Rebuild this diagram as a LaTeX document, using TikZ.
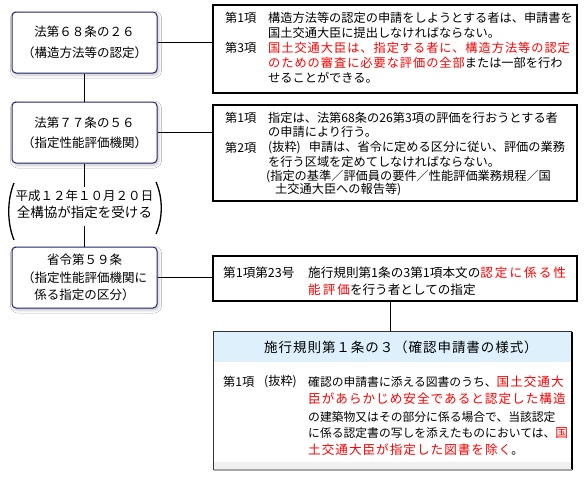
\documentclass[tikz,border=0pt]{standalone}
\usepackage{fontspec}
\setmainfont{Noto Sans CJK JP}
\usetikzlibrary{shadows.blur,calc}
\definecolor{navy}{RGB}{35,35,110}
\definecolor{hdrblue}{RGB}{222,240,252}
\newcommand\rd[1]{{\color{red}\addfontfeature{LetterSpace=8}#1}}
\newcommand\rdc[1]{{\color{red}\addfontfeature{LetterSpace=16}#1}}
\newcommand\rdb[1]{{\color{red}\fontsize{12.6}{14}\selectfont\addfontfeature{LetterSpace=8}#1}}
\begin{document}
\begin{tikzpicture}[x=1pt,y=-1pt,
  lbox/.style={draw=navy, line width=1pt, rounded corners=4pt, fill=white,
    minimum width=145pt, minimum height=61pt, inner sep=0pt, align=center,
    blur shadow={shadow xshift=1.5pt, shadow yshift=-2pt, shadow blur radius=3pt, shadow opacity=25}},
  rbox/.style={draw=black, line width=1.4pt, fill=white, inner sep=0pt},
  ln/.style={anchor=west, inner sep=0pt, font=\fontsize{12.2}{14}\selectfont},
  ln3/.style={anchor=west, inner sep=0pt, font=\fontsize{12.6}{14}\selectfont},
  conn/.style={draw=black, line width=1pt},
  paren/.style={draw=black, line width=1.3pt}]
\useasboundingbox (0,0) rectangle (586,482);
\fill[white] (0,0) rectangle (586,482);

% left boxes
\node[lbox, font=\fontsize{12.5}{21}\selectfont] (L1) at (84.5,42.5) {法第６８条の２６\\（構造方法等の認定）};
\node[lbox, font=\fontsize{12.5}{20}\selectfont] (L2) at (84.5,132.5) {法第７７条の５６\\（指定性能評価機関）};
\node[lbox, font=\fontsize{12.5}{17.5}\selectfont] (L3) at (84.5,277.5) {省令第５９条\\（指定性能評価機関に\\係る指定の区分）};

% parenthetical note
\node[inner sep=0pt, align=center, font=\fontsize{13.5}{17}\selectfont] (P) at (84.5,204.5) {{\fontsize{12.5}{17}\selectfont 平成１２年１０月２０日}\\全構協が指定を受ける};
\coordinate (Ptop) at (84.5,187);
\coordinate (Pbot) at (84.5,226);
\draw[paren] (14,183) .. controls (7,200) and (7,223) .. (14,240);
\draw[paren] (156,182) .. controls (163,198) and (163,218) .. (156,234);

% right boxes
\node[rbox, minimum width=364pt, minimum height=88pt] (R1) at (395,49) {};
\node[rbox, minimum width=364pt, minimum height=96pt] (R2) at (395,153) {};
\node[rbox, minimum width=364pt, minimum height=45pt] (R3) at (395,278.5) {};

% box 4
\node[draw=none, fill=white, minimum width=358pt, minimum height=138pt, inner sep=0pt] (R4) at (393,401) {};
\fill[hdrblue] (R4.north west) rectangle ($(R4.north east)+(0,30)$);
\fill[gray!12] ($(R4.south west)+(0,-8)$) rectangle (R4.south east);
\draw[line width=1.2pt, black!80] (R4.south west) -- (R4.north west) -- (R4.north east);
\draw[line width=2pt, black] (R4.north east) -- (R4.south east);
\draw[line width=2pt, gray!70] (R4.south west) -- (R4.south east);

% connectors
\draw[conn] (L1.east) -- (L1.east -| R1.west);
\draw[conn] (L1.south) -- (L2.north);
\draw[conn] (L2.east) -- (L2.east -| R2.west);
\draw[conn] (L2.south) -- (Ptop);
\draw[conn] (Pbot) -- (L3.north);
\draw[conn] (L3.east) -- (L3.east -| R3.west);
\draw[conn] ([xshift=-5pt]R3.south) -- ([xshift=-5pt]R3.south |- R4.north);

% box 1 text
\node[ln] (r1a) at (225,18) {第1項};
\node[ln] (r1b) at (268,18) {構造方法等の認定の申請をしようとする者は、申請書を};
\node[ln] (r1c) at (268,33) {国土交通大臣に提出しなければならない。};
\node[ln] (r1d) at (225,48) {第3項};
\node[ln] (r1e) at (268,48) {\rd{国土交通大臣は、指定する者に、構造方法等の認定}};
\node[ln] (r1f) at (268,63) {\rd{のための審査に必要な評価の全部}または一部を行わ};
\node[ln] (r1g) at (268,78) {せることができる。};

% box 2 text
\node[ln] (r2a) at (225,118) {第1項};
\node[ln] (r2b) at (268,118) {指定は、法第68条の26第3項の評価を行おうとする者};
\node[ln] (r2c) at (268,132) {の申請により行う。};
\node[ln] (r2d) at (225,148) {第2項};
\node[ln] (r2e) at (268,148) {(抜粋)\hspace{8pt}申請は、省令に定める区分に従い、評価の業務};
\node[ln] (r2f) at (268,162) {を行う区域を定めてしなければならない。};
\node[ln] (r2g) at (266,177) {(指定の基準／評価員の要件／性能評価業務規程／国};
\node[ln] (r2h) at (275,190) {土交通大臣への報告等)};

% box 3 text
\node[ln3] (r3a) at (223,273) {第1項第23号};
\node[ln3] (r3b) at (308,273) {施行規則第1条の3第1項本文の\rdc{認定に係る性}};
\node[ln3] (r3c) at (308,290) {\rdc{能評価}を行う者としての指定};

% box 4 text
\node[inner sep=0pt, font=\fontsize{13.5}{16}\selectfont\addfontfeature{LetterSpace=7}] (h4) at (401,347) {施行規則第１条の３（確認申請書の様式）};
\node[ln] (r4a) at (223,382) {第1項};
\node[ln] (r4b) at (264,382) {(抜粋)};
\node[ln, font=\fontsize{11.8}{14}\selectfont] (r4c) at (308,382) {確認の申請書に添える図書のうち、\rdb{国土交通大}};
\node[ln, font=\fontsize{11.8}{14}\selectfont] (r4d) at (308,399) {\rdb{臣があらかじめ安全であると認定した構造}};
\node[ln, font=\fontsize{11.8}{14}\selectfont] (r4e) at (308,417) {の建築物又はその部分に係る場合で、当該認定};
\node[ln, font=\fontsize{11.8}{14}\selectfont] (r4f) at (308,433) {に係る認定書の写しを添えたものにおいては、\rdb{国}};
\node[ln, font=\fontsize{11.8}{14}\selectfont] (r4g) at (308,450) {\rdb{土交通大臣が指定した図書を除く}。};
\end{tikzpicture}
\end{document}
